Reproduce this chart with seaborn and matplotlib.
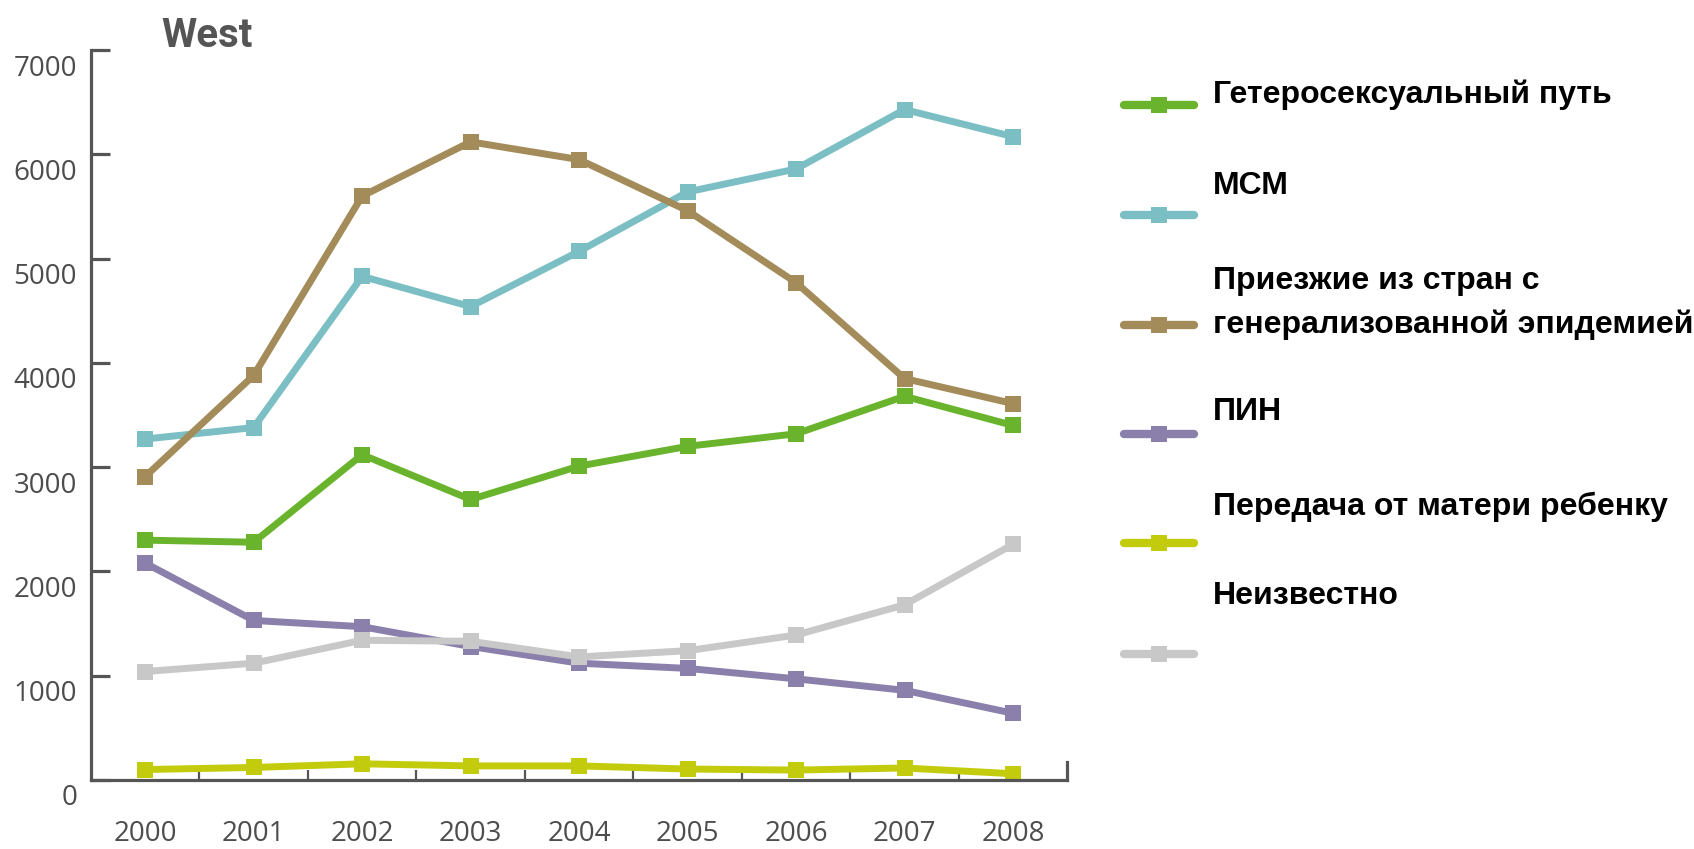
import pandas as pd
import numpy as np
import matplotlib.pyplot as plt
import matplotlib.transforms as mtransforms
from matplotlib.lines import Line2D
import seaborn as sns

# данные графика
years = [2000, 2001, 2002, 2003, 2004, 2005, 2006, 2007, 2008]
hetero = [2300, 2280, 3120, 2690, 3010, 3200, 3320, 3680, 3400]
msm = [3270, 3380, 4830, 4540, 5070, 5640, 5860, 6430, 6170]
migr = [2910, 3880, 5600, 6120, 5950, 5460, 4770, 3850, 3610]
pin = [2080, 1530, 1470, 1280, 1120, 1070, 970, 860, 640]
mother = [100, 120, 155, 135, 135, 105, 95, 115, 60]
unknown = [1040, 1120, 1340, 1330, 1180, 1240, 1390, 1680, 2260]

groups = ["Гетеросексуальный путь", "МСМ",
          "Приезжие из стран с\nгенерализованной эпидемией",
          "ПИН", "Передача от матери ребенку", "Неизвестно"]
colors = ["#6ab42d", "#7bbfc4", "#a38c59", "#8a80ab", "#c3cc0c", "#c8c8c8"]
yticks = [0, 1000, 2000, 3000, 4000, 5000, 6000, 7000]

df = pd.DataFrame({"year": years * 6,
                   "value": hetero + msm + migr + pin + mother + unknown,
                   "group": np.repeat(groups, len(years))})

sns.set_style("white")
plt.rcParams["font.family"] = ["Open Sans", "DejaVu Sans"]

fig = plt.figure(figsize=(16.94, 8.49), dpi=100)
ax = fig.add_axes([0.0537, 0.0813, 0.5763, 0.8597])

sns.lineplot(data=df, x="year", y="value", hue="group", hue_order=groups,
             palette=colors, marker="s", markersize=12, markeredgewidth=0,
             linewidth=5, legend=False, ax=ax, clip_on=False)

ax.set_xlim(1999.5, 2008.5)
ax.set_ylim(0, 7000)
ax.set_xlabel("")
ax.set_ylabel("")

axis_col = "#555555"
ax.spines["top"].set_visible(False)
for s in ["left", "bottom", "right"]:
    ax.spines[s].set_color(axis_col)
    ax.spines[s].set_linewidth(2.3)
ax.spines["right"].set_bounds(0, 170)

# оси X: засечки между годами, подписи по центру
ax.set_xticks([y + 0.5 for y in years[:-1]])
ax.set_xticklabels([])
ax.set_xticks(years, minor=True)
ax.set_xticklabels([str(y) for y in years], minor=True)
ax.tick_params(axis="x", which="major", bottom=True, direction="in",
               length=7, width=1.6, color=axis_col)
ax.tick_params(axis="x", which="minor", bottom=True, length=0, pad=29,
               labelsize=20, labelcolor="#4d4d4d")

ax.set_yticks(yticks)
ax.set_yticklabels([str(v) for v in yticks])
ax.tick_params(axis="y", left=True, direction="in", length=14, width=2.3,
               color=axis_col, pad=10, labelsize=20, labelcolor="#4d4d4d")
shift = mtransforms.ScaledTranslation(0, -0.15, fig.dpi_scale_trans)
for lab in ax.get_yticklabels():
    lab.set_transform(lab.get_transform() + shift)

fig.text(207 / 1694, 1 - 36 / 849, "West", ha="center", va="center",
         fontsize=29, fontweight="bold", color="#555555",
         family=["Roboto", "DejaVu Sans"])

# легенда справа
text_y = [95, 186, 303, 412, 507, 596]
handle_y = [105, 215, 325, 434, 543, 654]
for g, c, ty, hy in zip(groups, colors, text_y, handle_y):
    fig.text(1213 / 1694, 1 - ty / 849, g, ha="left", va="center",
             fontsize=23, fontweight="bold", color="black",
             family=["Liberation Sans", "DejaVu Sans"], linespacing=1.55)
    fig.add_artist(Line2D([1124 / 1694, 1194 / 1694], [1 - hy / 849] * 2,
                          color=c, linewidth=6, transform=fig.transFigure))
    fig.add_artist(Line2D([1159 / 1694], [1 - hy / 849], color=c,
                          marker="s", markersize=12, markeredgewidth=0,
                          transform=fig.transFigure))

fig.savefig("out.png", dpi=100)
